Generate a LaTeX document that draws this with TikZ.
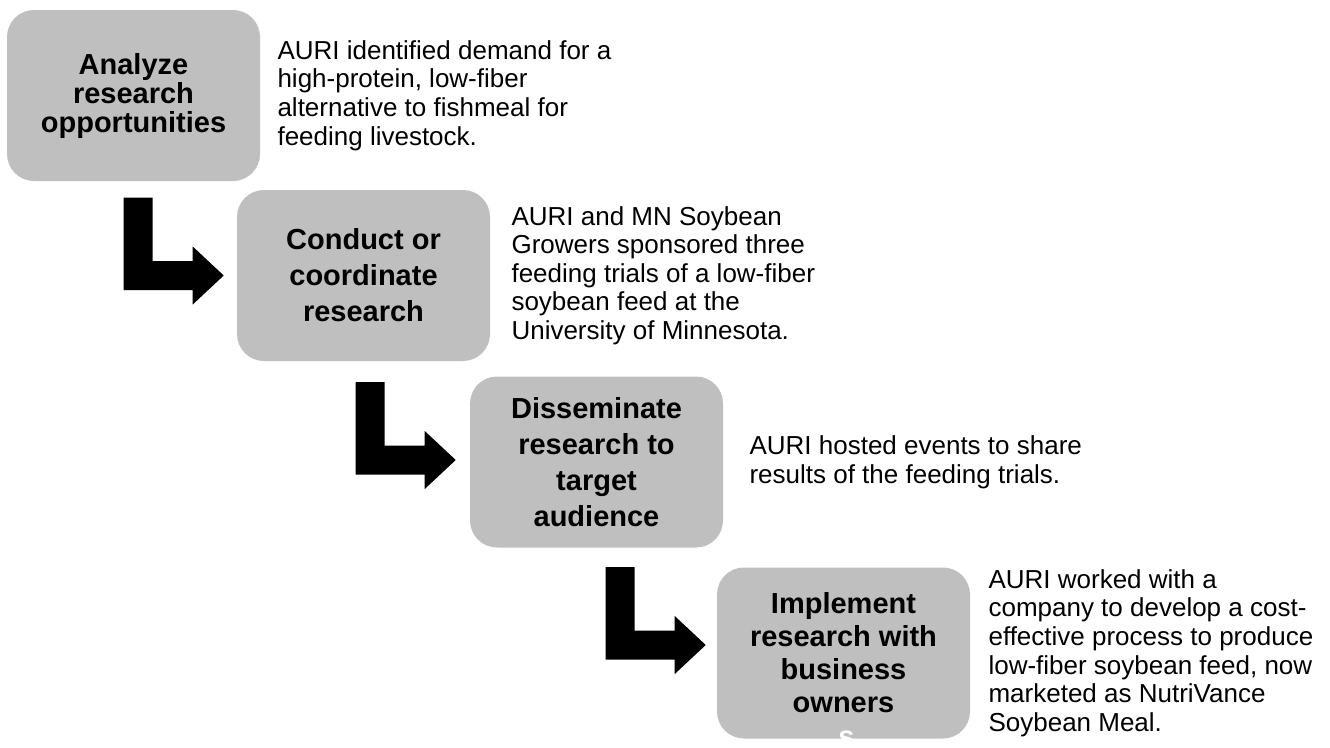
\documentclass[tikz,border=0pt]{standalone}
\usepackage{fontspec}
\setmainfont{Liberation Sans}
\usetikzlibrary{calc}
\definecolor{boxgray}{RGB}{191,191,191}
\tikzset{
  stepbox/.style={rectangle, rounded corners=20.25pt, fill=boxgray,
    minimum width=189.75pt, minimum height=128.25pt, align=center, inner sep=0pt,
    font=\bfseries\fontsize{21.75pt}{#1}\selectfont},
  stepbox/.default=21.75pt,
  note/.style={anchor=west, align=left, inner sep=0pt,
    font=\fontsize{19.5pt}{21.4pt}\selectfont},
  % bent block arrow, drawn with its tip at the origin
  pics/bentarrow/.style={code={
    \fill[black] (0,0) -- (-31,-29) -- (-31,-14.5) -- (-71,-14.5) -- (-71,-78)
      -- (-100,-78) -- (-100,14.5) -- (-31,14.5) -- (-31,29) -- cycle;
  }}
}
\begin{document}
\begin{tikzpicture}[x=0.75pt, y=-0.75pt]
  \fill[white] (0,0) rectangle (1330,747);
  \useasboundingbox (0,0) rectangle (1330,747);

  % process steps
  \node[stepbox] (b1) at (133.5,95.5) {Analyze\\research\\opportunities};
  \node[stepbox=27pt] (b2) at (363.5,275.5) {Conduct or\\coordinate\\research};
  \node[stepbox=27pt] (b3) at (596.5,462) {Disseminate\\research to\\target\\audience};
  \node[stepbox=24.75pt] (b4) at (843.5,653) {Implement\\research with\\business\\owners};
  \node[anchor=base, inner sep=0pt, text=white, font=\bfseries\fontsize{21.75pt}{21.75pt}\selectfont]
    (spill) at ($(b4.south)+(3,8)$) {s};

  % descriptions
  \node[note] (t1) at ($(b1.east)+(17,0)$) {AURI identified demand for a\\high-protein, low-fiber\\alternative to fishmeal for\\feeding livestock.};
  \node[note] (t2) at ($(b2.east)+(21,0)$) {AURI and MN Soybean\\Growers sponsored three\\feeding trials of a low-fiber\\soybean feed at the\\University of Minnesota.};
  \node[note] (t3) at ($(b3.east)+(26,0)$) {AURI hosted events to share\\results of the feeding trials.};
  \node[note] (t4) at ($(b4.east)+(18,0)$) {AURI worked with a\\company to develop a cost-\\effective process to produce\\low-fiber soybean feed, now\\marketed as NutriVance\\Soybean Meal.};

  % arrows leading into each following step
  \pic at ($(b2.west)+(-13,0)$) {bentarrow};
  \pic at ($(b3.west)+(-14,-2)$) {bentarrow};
  \pic at ($(b4.west)+(-11,-8)$) {bentarrow};
\end{tikzpicture}
\end{document}
